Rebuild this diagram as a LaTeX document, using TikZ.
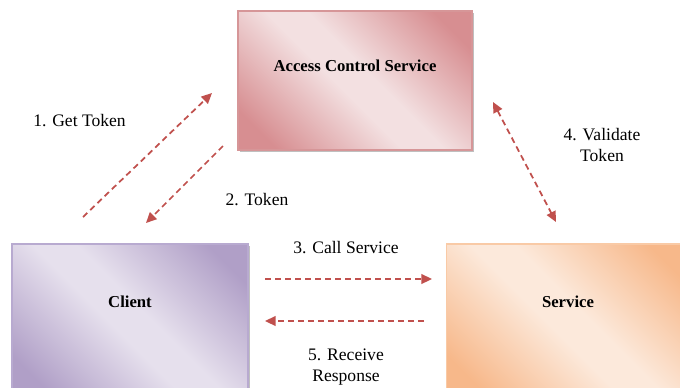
\documentclass[tikz,border=0pt]{standalone}
\usepackage{fontspec}
\setmainfont{Liberation Serif}
\usepackage{tikz}
\usetikzlibrary{calc,shadows,arrows.meta}

\definecolor{acsdark}{RGB}{215,142,145}
\definecolor{acslight}{RGB}{243,224,225}
\definecolor{acsline}{RGB}{214,150,152}
\definecolor{clidark}{RGB}{176,159,199}
\definecolor{clilight}{RGB}{230,224,237}
\definecolor{cliline}{RGB}{184,170,208}
\definecolor{svcdark}{RGB}{247,184,138}
\definecolor{svclight}{RGB}{252,233,219}
\definecolor{svcline}{RGB}{249,202,166}
\definecolor{flowred}{RGB}{192,80,77}

\pgfdeclarehorizontalshading{acsfill}{100bp}{color(0bp)=(acsdark); color(22bp)=(acsdark); color(46bp)=(acslight); color(54bp)=(acslight); color(78bp)=(acsdark); color(100bp)=(acsdark)}
\pgfdeclarehorizontalshading{clifill}{100bp}{color(0bp)=(clidark); color(22bp)=(clidark); color(46bp)=(clilight); color(54bp)=(clilight); color(78bp)=(clidark); color(100bp)=(clidark)}
\pgfdeclarehorizontalshading{svcfill}{100bp}{color(0bp)=(svcdark); color(22bp)=(svcdark); color(46bp)=(svclight); color(54bp)=(svclight); color(78bp)=(svcdark); color(100bp)=(svcdark)}

\tikzset{
	box/.style={draw, line width=0.6pt, shade, shading angle=45,
		drop shadow={shadow xshift=1.4pt, shadow yshift=-1.4pt, fill=black, opacity=0.25}},
	boxtext/.style={font=\fontsize{9.5}{11}\selectfont\bfseries},
	steptext/.style={font=\fontsize{10}{11.5}\selectfont, align=center},
	flow/.style={color=flowred, line width=1pt, dash pattern=on 3.4pt off 2.3pt,
		-{Triangle[length=6pt,width=5.5pt]}}
}

\begin{document}
\begin{tikzpicture}[x=0.02cm, y=0.02cm]
			%%%%% START %%%%%
			\useasboundingbox (0, 0) rectangle (680, 387);
			\clip (0, 0) rectangle (680, 387);
			
			% the three boxes
			\node[box, draw=acsline, shading=acsfill, minimum width=4.68cm, minimum height=2.78cm] (acs) at (355, 306.5) {};
			\node[box, draw=cliline, shading=clifill, minimum width=4.72cm, minimum height=3.06cm] (client) at (130, 66.5) {};
			\node[box, draw=svcline, shading=svcfill, minimum width=4.88cm, minimum height=3.06cm] (service) at (568, 66.5) {};
			
			\node[boxtext] (acstext) at ($(acs.north)+(0, -55)$) {Access Control Service};
			\node[boxtext] (clienttext) at ($(client.north)+(0, -58)$) {Client};
			\node[boxtext] (servicetext) at ($(service.north)+(0, -58)$) {Service};
			
			% arrow ends
			\coordinate (get-a) at (83, 170);
			\coordinate (get-b) at (212, 294);
			\coordinate (tok-a) at (223, 241);
			\coordinate (tok-b) at (146, 164);
			\coordinate (val-a) at (493, 285);
			\coordinate (val-b) at (556, 165);
			\coordinate (call-a) at (265, 108);
			\coordinate (call-b) at (432, 108);
			\coordinate (resp-a) at (424, 66);
			\coordinate (resp-b) at (265, 66);
			
			\draw[flow] (get-a) -- (get-b);
			\draw[flow] (tok-a) -- (tok-b);
			\draw[flow, {Triangle[length=6pt,width=5.5pt]}-{Triangle[length=6pt,width=5.5pt]}] (val-a) -- (val-b);
			\draw[flow] (call-a) -- (call-b);
			\draw[flow] (resp-a) -- (resp-b);
			
			% step labels
			\node[steptext] (gettext) at (79.5, 266) {1. Get Token};
			\node[steptext] (toktext) at (257, 187) {2. Token};
			\node[steptext] (calltext) at (346, 139) {3. Call Service};
			\node[steptext] (valtext) at (602, 242) {4. Validate\\Token};
			\node[steptext] (resptext) at (346, 20) {5. Receive\\Response};
			
			%%%%% END %%%%%
		\end{tikzpicture}
\end{document}
